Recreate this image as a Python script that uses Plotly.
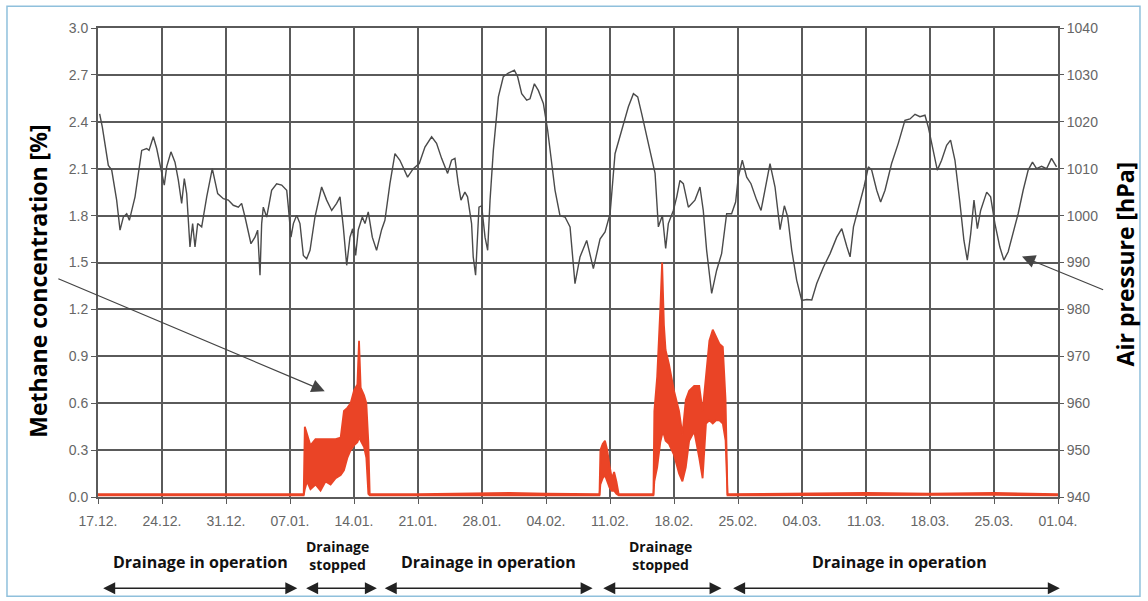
import plotly.graph_objects as go
import pandas as pd

# ---------------- data ----------------
start_date = "2010-12-17"          # day 0 = 17.12.
axis_days = [0, 105]               # 17.12. .. 01.04.

# Air pressure [hPa] (right axis): day offset, value
pressure_day = [
    0.18, 0.47, 1.13, 1.50, 2.04, 2.41, 2.77, 3.14, 3.43, 4.05, 4.78, 5.32, 5.58, 6.05, 6.42,
    6.96, 7.25, 7.51, 7.98, 8.42, 8.79, 9.15, 9.44, 9.70, 10.06, 10.35, 10.61, 10.90, 11.34,
    11.89, 12.50, 13.09, 13.71, 14.25, 14.80, 15.35, 15.71, 16.08, 16.73, 17.17, 17.46, 17.72,
    17.90, 18.08, 18.45, 18.99, 19.54, 20.09, 20.64,
    20.82, 21.11, 21.37, 21.73, 22.09, 22.46, 22.82, 23.19, 23.73, 24.46, 25.01, 25.56, 26.10,
    26.47, 26.83, 27.20, 27.56, 27.85, 28.18, 28.47, 28.91, 29.20, 29.56, 30.00, 30.47, 31.02,
    31.38, 31.93, 32.48, 33.02, 33.86, 34.48, 35.14, 35.76, 36.49, 37.03, 37.58, 38.24, 38.67,
    39.04, 39.40, 39.70, 40.13, 40.42, 40.86, 41.04, 41.30, 41.67,
    41.96, 42.33, 42.62, 42.88, 43.24, 43.79, 44.33, 44.88, 45.54, 45.90, 46.34, 46.89, 47.25,
    47.73, 48.16, 48.71, 49.18, 49.62, 49.99, 50.53, 51.08, 51.63, 52.17, 52.72, 53.45, 54.18,
    54.91, 55.46, 56.01, 56.55, 57.28, 58.01, 58.56, 59.03, 59.47, 60.02, 60.38, 60.93, 61.29,
    61.73, 62.09, 62.38, 62.93,
    63.30, 63.65, 64.02, 64.57, 65.29, 65.84, 66.20, 66.57, 67.12, 67.66, 68.21, 68.76, 69.30,
    69.74, 70.03, 70.47, 70.95, 71.42, 72.04, 72.52, 72.96, 73.50, 74.05, 74.60, 75.07, 75.44,
    75.88, 76.42, 76.97, 77.52, 78.07, 78.61, 79.34, 80.07, 80.80, 81.35, 81.90, 82.26, 82.63,
    83.17,
    83.78, 84.26, 84.62, 85.17, 85.60, 86.08, 86.80, 87.53, 88.26, 88.81, 89.36, 89.90, 90.45,
    90.81, 91.29, 91.80, 92.27, 92.82, 93.25, 93.73, 94.28, 94.71, 95.08, 95.45, 95.81, 96.18,
    96.54, 97.20, 97.63, 98.10, 98.64, 99.08, 99.55, 100.10, 100.64, 101.19, 101.74, 102.21,
    102.65, 103.20, 103.75, 104.29, 104.84,
]
pressure_hpa = [
    1021.7, 1018.9, 1010.7, 1009.7, 1003.3, 996.9, 999.7, 1000.4, 999.0, 1004.0, 1013.9, 1014.3,
    1013.9, 1016.8, 1014.3, 1009.7, 1006.5, 1010.4, 1013.6, 1011.4, 1007.5, 1002.6, 1007.9,
    1004.7, 993.3, 998.3, 993.3, 998.3, 997.6, 1004.0, 1010.0, 1004.7, 1003.6, 1003.3, 1002.2,
    1001.8, 1002.6, 999.7, 994.0, 995.4, 996.9, 987.3, 998.3, 1001.8, 999.7, 1005.4, 1006.8,
    1006.5, 1005.4,
    1001.8, 995.4, 998.3, 1000.1, 998.3, 991.5, 990.8, 992.6, 999.7, 1006.1, 1003.3, 1001.1,
    1002.6, 1004.0, 997.6, 989.4, 995.4, 997.2, 991.5, 997.0, 999.7, 998.3, 1000.8, 995.4,
    992.6, 997.0, 999.0, 1006.8, 1013.2, 1011.8, 1008.2, 1010.0, 1011.1, 1014.6, 1016.8,
    1015.4, 1012.2, 1009.0, 1011.8, 1012.2, 1006.8, 1003.3, 1005.0, 1004.0, 998.3, 991.2,
    987.3, 1001.8,
    1002.1, 995.4, 992.6, 1003.3, 1013.9, 1025.3, 1029.6, 1030.4, 1031.0, 1029.6, 1026.0,
    1024.6, 1024.9, 1028.1, 1026.7, 1023.9, 1018.2, 1011.8, 1005.4, 1000.0, 999.7, 997.6,
    985.5, 991.2, 994.7, 988.7, 995.0, 996.5, 1000.4, 1013.2, 1018.2, 1023.2, 1026.0, 1025.3,
    1021.7, 1016.8, 1014.3, 1009.0, 997.6, 1000.0, 993.0, 998.3, 1001.1,
    1004.0, 1007.5, 1006.8, 1001.8, 1003.3, 1006.1, 1001.1, 992.6, 983.4, 988.3, 991.9,
    1000.4, 1000.4, 1002.9, 1008.2, 1011.8, 1008.2, 1006.8, 1003.3, 1001.1, 1005.4, 1011.1,
    1006.1, 997.0, 1002.1, 999.7, 992.6, 986.2, 981.9, 982.1, 982.0, 985.5, 989.0, 991.9,
    995.4, 997.2, 993.4, 991.2, 997.6, 1001.5,
    1006.1, 1010.4, 1009.7, 1005.4, 1002.9, 1005.4, 1011.1, 1015.4, 1020.3, 1020.6, 1021.6,
    1021.1, 1021.4, 1018.9, 1014.6, 1009.7, 1011.8, 1015.0, 1016.1, 1011.8, 1002.6, 994.7,
    990.5, 996.1, 1003.3, 997.2, 1001.1, 1005.0, 1004.0, 998.3, 993.3, 990.5, 992.3, 996.1,
    1000.4, 1005.4, 1009.7, 1011.4, 1010.0, 1010.5, 1010.0, 1012.2, 1010.4,
]

# Methane concentration [%] (left axis): day offset, upper and lower envelope of the signal
methane_day = [
    0, 7, 14, 21, 22.5,
    22.62, 22.87, 23.24, 23.79, 24.34, 24.89, 25.44, 25.99, 26.54, 26.90, 27.27, 27.63, 28.00,
    28.37, 28.55, 28.73, 29.10, 29.35, 29.57, 29.72,
    35, 42, 45, 49, 54.85,
    54.95, 55.20, 55.45, 55.70, 55.95, 56.20, 56.45, 56.70, 56.95,
    60.75, 60.85, 61.16, 61.50, 61.70, 61.90, 62.08, 62.45, 63.00, 63.55, 63.92, 64.29, 64.66,
    65.21, 65.76, 66.13, 66.50, 66.87, 67.24, 67.60, 67.97, 68.34, 68.64, 68.85,
    77, 84, 91, 98, 105,
]
methane_max = [
    0.018, 0.018, 0.018, 0.018, 0.018,
    0.45, 0.40, 0.33, 0.37, 0.37, 0.37, 0.37, 0.37, 0.38, 0.55, 0.57, 0.60, 0.68,
    0.72, 1.00, 0.70, 0.65, 0.60, 0.35, 0.018,
    0.018, 0.022, 0.026, 0.022, 0.018,
    0.30, 0.34, 0.36, 0.30, 0.20, 0.12, 0.16, 0.10, 0.018,
    0.018, 0.55, 0.77, 1.20, 1.50, 1.10, 0.94, 0.85, 0.68, 0.55, 0.40, 0.62, 0.68,
    0.71, 0.71, 0.55, 0.79, 1.00, 1.07, 1.02, 0.98, 0.96, 0.62, 0.018,
    0.022, 0.026, 0.022, 0.026, 0.018,
]
methane_min = [
    0.01, 0.01, 0.01, 0.01, 0.01,
    0.05, 0.10, 0.05, 0.08, 0.04, 0.10, 0.08, 0.12, 0.14, 0.17, 0.25, 0.30, 0.33,
    0.35, 0.38, 0.36, 0.32, 0.25, 0.02, 0.01,
    0.01, 0.012, 0.014, 0.012, 0.01,
    0.08, 0.12, 0.14, 0.10, 0.06, 0.04, 0.04, 0.02, 0.01,
    0.01, 0.10, 0.19, 0.35, 0.40, 0.40, 0.36, 0.34, 0.27, 0.15, 0.10, 0.19, 0.36,
    0.42, 0.25, 0.12, 0.47, 0.49, 0.47, 0.49, 0.49, 0.47, 0.36, 0.01,
    0.012, 0.014, 0.012, 0.014, 0.01,
]

# Drainage periods (day offsets of the arrow ends) and labels
period_start = [0.4, 22.6, 31.2, 55.1, 69.3]
period_end = [21.8, 30.5, 54.1, 68.2, 105.2]
period_label = ["Drainage in operation", "Drainage<br>stopped", "Drainage in operation",
                "Drainage<br>stopped", "Drainage in operation"]
period_label_day = [11.2, 26.2, 42.7, 61.5, 87.7]

# ---------------- helpers ----------------
t0 = pd.Timestamp(start_date)


def to_dates(days):
    return [t0 + pd.Timedelta(days=float(d)) for d in days]


RED = "#ea4426"
GRID = "#5a5a5a"
TICK_FONT = dict(family="Liberation Sans, Arial, sans-serif", size=14, color="#666666")
LABEL_FAMILY = "Open Sans, Lato, sans-serif"

fig = go.Figure()

# methane band (upper envelope, then lower envelope filled to it)
fig.add_trace(go.Scatter(
    x=to_dates(methane_day), y=methane_max, mode="lines",
    line=dict(color=RED, width=1.8), hoverinfo="skip", showlegend=False, yaxis="y"))
fig.add_trace(go.Scatter(
    x=to_dates(methane_day), y=methane_min, mode="lines",
    line=dict(color=RED, width=1.8), fill="tonexty", fillcolor=RED,
    hoverinfo="skip", showlegend=False, yaxis="y"))

# air pressure
fig.add_trace(go.Scatter(
    x=to_dates(pressure_day), y=pressure_hpa, mode="lines",
    line=dict(color="#4a4a4a", width=1.4), showlegend=False, yaxis="y2"))

x_range = to_dates(axis_days)

fig.update_layout(
    width=1148, height=601,
    margin=dict(l=98, r=90, t=28, b=104),
    paper_bgcolor="white", plot_bgcolor="white",
    xaxis=dict(
        type="date", range=x_range, tick0=x_range[0], dtick=7 * 86400000,
        tickformat="%d.%m.", showgrid=True, gridcolor=GRID, gridwidth=1.8,
        showline=True, linecolor=GRID, linewidth=1.8, mirror=True,
        ticks="outside", ticklen=5, tickcolor=GRID, tickfont=TICK_FONT,
        ticklabelstandoff=5, zeroline=False, automargin=False,
    ),
    yaxis=dict(
        range=[0, 3.0], tick0=0, dtick=0.3, tickformat=".1f",
        showgrid=True, gridcolor=GRID, gridwidth=1.8,
        showline=True, linecolor=GRID, linewidth=1.8, mirror=True,
        ticks="outside", ticklen=5, tickcolor=GRID, tickfont=TICK_FONT,
        zeroline=False, automargin=False,
    ),
    yaxis2=dict(
        range=[940, 1040], tick0=940, dtick=10, overlaying="y", side="right",
        showgrid=False, zeroline=False, showline=False,
        ticks="outside", ticklen=5, tickcolor=GRID, tickfont=TICK_FONT,
        automargin=False,
    ),
)

annotations = []
# axis titles
annotations.append(dict(
    text="Methane concentration [%]", xref="paper", yref="paper", x=-0.0625, y=0.459,
    textangle=-90, showarrow=False, xanchor="center", yanchor="middle",
    font=dict(family=LABEL_FAMILY, size=23, color="black", weight="bold")))
annotations.append(dict(
    text="Air pressure [hPa]", xref="paper", yref="paper", x=1.0698, y=0.496,
    textangle=-90, showarrow=False, xanchor="center", yanchor="middle",
    font=dict(family=LABEL_FAMILY, size=23, color="black", weight="bold")))

# period arrows and labels
for s, e, lab, ld in zip(period_start, period_end, period_label, period_label_day):
    annotations.append(dict(
        x=to_dates([e])[0], y=-0.1947, xref="x", yref="paper",
        ax=to_dates([s])[0], ay=0, axref="x", ayref="pixel",
        text="", showarrow=True, arrowside="end+start", arrowhead=2,
        arrowsize=1.6, arrowwidth=1.5, arrowcolor="#222222"))
    stopped = "<br>" in lab
    annotations.append(dict(
        text=lab, x=to_dates([ld])[0], y=-0.1253 if stopped else -0.139,
        xref="x", yref="paper", showarrow=False, xanchor="center", yanchor="middle",
        bgcolor="white",
        font=dict(family=LABEL_FAMILY, size=14 if stopped else 16,
                  color="#111111", weight="bold")))

# pointer arrows to the two series
annotations.append(dict(
    x=to_dates([24.8])[0], y=0.677, xref="x", yref="y",
    ax=to_dates([-4.5])[0], ay=1.40, axref="x", ayref="y",
    text="", showarrow=True, arrowhead=2, arrowsize=2.2, arrowwidth=1.2,
    arrowcolor="#444444"))
annotations.append(dict(
    x=to_dates([101.06])[0], y=1.539, xref="x", yref="y",
    ax=to_dates([110.1])[0], ay=1.322, axref="x", ayref="y",
    text="", showarrow=True, arrowhead=2, arrowsize=2.2, arrowwidth=1.2,
    arrowcolor="#444444"))

fig.update_layout(annotations=annotations)

# light blue outer frame
fig.add_shape(type="rect", xref="paper", yref="paper",
              x0=-0.0948, x1=1.0854, y0=-0.2117, y1=1.0463,
              line=dict(color="#8fc0dc", width=1.5), fillcolor="rgba(0,0,0,0)", layer="below")

fig.write_html(
    "out.html",
    config={"displayModeBar": False},
    post_script="document.body.style.margin='0px';document.body.style.overflow='hidden';",
)
